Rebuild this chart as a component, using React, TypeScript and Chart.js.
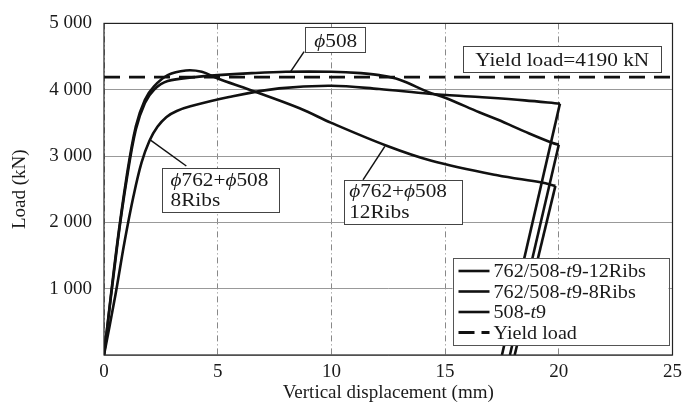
import React, { useEffect, useRef } from "react";
import { Chart, registerables } from "chart.js";

Chart.register(...registerables);

const FONT = '"Liberation Serif", "Times New Roman", serif';

// ---- data ----
const xTickValues = [0, 5, 10, 15, 20, 25];
const yTickValues = [0, 1000, 2000, 3000, 4000, 5000];
const yieldLoad = 4190;

const ribs12Disp = [0, 0.55, 1.0, 1.4, 1.8, 2.2, 2.8, 3.6, 4.3, 5.0, 6.4, 8.6, 10, 12.4, 14.4, 17.3, 19.25, 19.85];
const ribs12Load = [0, 1600, 2700, 3450, 3850, 4050, 4220, 4290, 4270, 4170, 4000, 3720, 3500, 3160, 2930, 2710, 2600, 2550];
const ribs12UnloadDisp = [19.85, 18.06];
const ribs12UnloadLoad = [2550, 0];

const ribs8Disp = [0, 0.5, 0.9, 1.3, 1.65, 2.0, 2.35, 2.75, 3.2, 3.8, 5.5, 7.7, 10, 12.1, 14.3, 16.5, 18.5, 20.05];
const ribs8Load = [0, 900, 1700, 2400, 2900, 3230, 3440, 3590, 3680, 3750, 3890, 4020, 4060, 4010, 3940, 3890, 3840, 3790];
const ribs8UnloadDisp = [20.05, 17.5];
const ribs8UnloadLoad = [3790, 0];

const p508Disp = [0, 0.6, 1.0, 1.4, 1.8, 2.2, 2.8, 4, 5, 6.5, 8, 10, 11.3, 12.1, 13, 14.3, 15, 16.5, 17.3, 18.7, 19.7, 20.0];
const p508Load = [0, 1700, 2650, 3400, 3800, 4000, 4130, 4190, 4220, 4250, 4270, 4270, 4250, 4220, 4150, 3960, 3880, 3660, 3550, 3340, 3200, 3170];
const p508UnloadDisp = [20.0, 17.85];
const p508UnloadLoad = [3170, 0];

const yieldDisp = [0, 25];

type Seg = { t: string; it?: boolean };

const legendLabels: Seg[][] = [
  [{ t: "762/508-" }, { t: "t", it: true }, { t: "9-12Ribs" }],
  [{ t: "762/508-" }, { t: "t", it: true }, { t: "9-8Ribs" }],
  [{ t: "508-" }, { t: "t", it: true }, { t: "9" }],
  [{ t: "Yield load" }],
];

const annotations: {
  x0: number; x1: number; y0: number; y1: number;
  lines: Seg[][]; align: "left" | "center"; padX: number; baselines: number[];
  ptr: [number, number][];
}[] = [
  {
    x0: 8.86, x1: 11.52, y0: 4560, y1: 4940,
    lines: [[{ t: "ϕ", it: true }, { t: "508" }]],
    align: "center", padX: 0, baselines: [20],
    ptr: [[8.8, 4575], [8.2, 4270]],
  },
  {
    x0: 15.8, x1: 24.5, y0: 4270, y1: 4660,
    lines: [[{ t: "Yield load=4190 kN" }]],
    align: "center", padX: 0, baselines: [20],
    ptr: [],
  },
  {
    x0: 2.53, x1: 7.68, y0: 2150, y1: 2820,
    lines: [[{ t: "ϕ", it: true }, { t: "762+" }, { t: "ϕ", it: true }, { t: "508" }], [{ t: "8Ribs" }]],
    align: "left", padX: 9, baselines: [18, 38],
    ptr: [[3.62, 2850], [2.0, 3250]],
  },
  {
    x0: 10.56, x1: 15.75, y0: 1970, y1: 2640,
    lines: [[{ t: "ϕ", it: true }, { t: "762+" }, { t: "ϕ", it: true }, { t: "508" }], [{ t: "12Ribs" }]],
    align: "left", padX: 5, baselines: [17, 38],
    ptr: [[11.39, 2640], [12.35, 3145]],
  },
];

function zip(xs: number[], ys: number[]) {
  return xs.map((x, i) => ({ x, y: ys[i] }));
}

function drawRich(ctx: CanvasRenderingContext2D, segs: Seg[], x: number, y: number, size: number, align: "left" | "center", sx: number) {
  const widths = segs.map((s) => {
    ctx.font = `${s.it ? "italic " : ""}${size}px ${FONT}`;
    return ctx.measureText(s.t).width;
  });
  const total = widths.reduce((a, b) => a + b, 0);
  ctx.save();
  ctx.translate(x, y);
  ctx.scale(sx, 1);
  let cx = align === "center" ? -total / 2 : 0;
  ctx.textAlign = "left";
  ctx.textBaseline = "alphabetic";
  ctx.fillStyle = "#1a1a1a";
  segs.forEach((s, i) => {
    ctx.font = `${s.it ? "italic " : ""}${size}px ${FONT}`;
    ctx.fillText(s.t, cx, 0);
    cx += widths[i];
  });
  ctx.restore();
}

const overlayPlugin = {
  id: "overlay",
  afterDatasetsDraw(chart: any) {
    const ctx: CanvasRenderingContext2D = chart.ctx;
    const xs = chart.scales.x;
    const ys = chart.scales.y;
    const area = chart.chartArea;
    ctx.save();
    annotations.forEach((a) => {
      const left = xs.getPixelForValue(a.x0);
      const right = xs.getPixelForValue(a.x1);
      const top = ys.getPixelForValue(a.y1);
      const bottom = ys.getPixelForValue(a.y0);
      if (a.ptr.length === 2) {
        ctx.beginPath();
        ctx.strokeStyle = "#111";
        ctx.lineWidth = 1.5;
        ctx.setLineDash([]);
        ctx.moveTo(xs.getPixelForValue(a.ptr[0][0]), ys.getPixelForValue(a.ptr[0][1]));
        ctx.lineTo(xs.getPixelForValue(a.ptr[1][0]), ys.getPixelForValue(a.ptr[1][1]));
        ctx.stroke();
      }
      ctx.fillStyle = "#fff";
      ctx.fillRect(left, top, right - left, bottom - top);
      ctx.strokeStyle = "#444";
      ctx.lineWidth = 1;
      ctx.strokeRect(Math.round(left) + 0.5, Math.round(top) + 0.5, Math.round(right - left), Math.round(bottom - top));
      a.lines.forEach((ln, i) => {
        const tx = a.align === "center" ? (left + right) / 2 : left + a.padX;
        drawRich(ctx, ln, tx, top + a.baselines[i], 18.5, a.align, 1.15);
      });
    });
    // legend
    const lw = 216, lh = 87;
    const lr = area.right - 4, lb = area.bottom - 10;
    const ll = lr - lw, lt = lb - lh;
    ctx.fillStyle = "#fff";
    ctx.fillRect(ll, lt, lw, lh);
    ctx.strokeStyle = "#555";
    ctx.lineWidth = 1;
    ctx.setLineDash([]);
    ctx.strokeRect(Math.round(ll) + 0.5, Math.round(lt) + 0.5, lw, lh);
    const order = [0, 2, 4, 6];
    order.forEach((di, i) => {
      const ds = chart.data.datasets[di];
      const base = lt + 19 + i * 20.5;
      const ly = base - 6;
      ctx.beginPath();
      ctx.strokeStyle = ds.borderColor;
      ctx.lineWidth = ds.borderWidth;
      ctx.setLineDash(ds.borderDash ? [16, 7] : []);
      ctx.moveTo(ll + 6, ly);
      ctx.lineTo(ll + 37, ly);
      ctx.stroke();
      ctx.setLineDash([]);
      drawRich(ctx, legendLabels[i], ll + 41, base, 18, "left", 1.12);
    });
    // frame
    ctx.strokeStyle = "#222";
    ctx.lineWidth = 1.2;
    ctx.setLineDash([]);
    ctx.strokeRect(area.left, area.top, area.right - area.left, area.bottom - area.top);
    ctx.restore();
  },
};

export default function App() {
  const ref = useRef<HTMLCanvasElement | null>(null);
  useEffect(() => {
    document.body.style.margin = "0";
    const canvas = ref.current;
    if (!canvas) return;
    const black = "#111";
    const curve = (xs: number[], ys: number[], tension: number) => ({
      data: zip(xs, ys),
      borderColor: black,
      borderWidth: 2.6,
      pointRadius: 0,
      tension,
      fill: false,
    });
    const chart = new Chart(canvas, {
      type: "line",
      data: {
        datasets: [
          curve(ribs12Disp, ribs12Load, 0.35),
          curve(ribs12UnloadDisp, ribs12UnloadLoad, 0),
          curve(ribs8Disp, ribs8Load, 0.35),
          curve(ribs8UnloadDisp, ribs8UnloadLoad, 0),
          curve(p508Disp, p508Load, 0.35),
          curve(p508UnloadDisp, p508UnloadLoad, 0),
          {
            data: zip(yieldDisp, yieldDisp.map(() => yieldLoad)),
            borderColor: black,
            borderWidth: 2.8,
            borderDash: [16, 9],
            pointRadius: 0,
            tension: 0,
            fill: false,
          },
        ] as any,
      },
      options: {
        responsive: false,
        animation: false,
        events: [],
        layout: { padding: { top: 18, right: 11, left: 0, bottom: 0 } },
        plugins: { legend: { display: false }, tooltip: { enabled: false } },
        scales: {
          x: {
            type: "linear",
            min: 0,
            max: 25,
            afterBuildTicks: (s: any) => { s.ticks = xTickValues.map((v) => ({ value: v })); },
            afterFit: (s: any) => { s.height = 53; },
            ticks: { color: "#1a1a1a", font: { family: FONT, size: 19 }, padding: 6, maxRotation: 0 },
            grid: { color: "#888", lineWidth: 1, drawTicks: false },
            border: { display: false, dash: [6, 3, 1, 3] },
            title: { display: true, text: "Vertical displacement (mm)", color: "#1a1a1a", font: { family: FONT, size: 19 }, padding: { top: 0, bottom: 4 } },
          },
          y: {
            type: "linear",
            min: 0,
            max: 5000,
            afterBuildTicks: (s: any) => { s.ticks = yTickValues.map((v) => ({ value: v })); },
            afterFit: (s: any) => { s.width = 104; },
            ticks: {
              color: "#1a1a1a",
              font: { family: FONT, size: 19 },
              padding: 12,
              callback: (v: any) => {
                const n = Number(v);
                if (n === 0) return "";
                return `${Math.floor(n / 1000)} ${String(n % 1000).padStart(3, "0")}`;
              },
            },
            grid: { color: "#999", lineWidth: 1, drawTicks: false },
            border: { display: false },
            title: { display: true, text: "Load (kN)", color: "#1a1a1a", font: { family: FONT, size: 19 }, padding: { top: 9, bottom: 0 } },
          },
        },
      },
      plugins: [overlayPlugin],
    } as any);
    return () => chart.destroy();
  }, []);
  return (
    <div style={{ width: 688, height: 408 }}>
      <canvas ref={ref} width={688} height={408} style={{ display: "block" }} />
    </div>
  );
}
